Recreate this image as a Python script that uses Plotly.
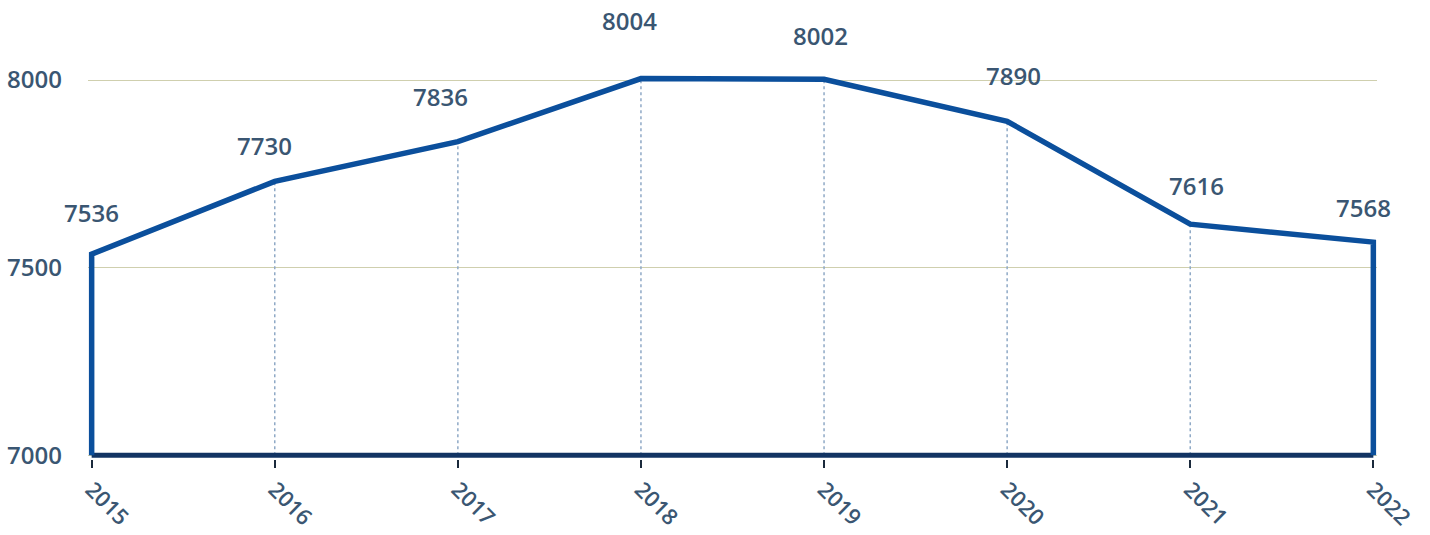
import plotly.graph_objects as go

years = [2015, 2016, 2017, 2018, 2019, 2020, 2021, 2022]
values = [7536, 7730, 7836, 8004, 8002, 7890, 7616, 7568]
y_ticks = [7000, 7500, 8000]

BASE = 7000
LINE_BLUE = "#0b4f9c"
BASE_NAVY = "#123463"
TEXT_BLUE = "#3a5672"
GRID = "#cfcfae"
DOT = "#8fa9c6"
FONT = dict(family="Open Sans", size=24, color=TEXT_BLUE, weight=600)
XFONT = dict(family="Open Sans", size=22, color=TEXT_BLUE, weight=600)

# label nudges (px) so labels clear the outline
label_dx = [0, -10, -17, -11, -4, 6, 6, -10]
label_dy = [42, 36, 45, 58, 44, 46, 39, 35]

fig = go.Figure()

# dotted drop lines at interior years
for x, v in zip(years[1:-1], values[1:-1]):
    fig.add_trace(go.Scatter(
        x=[x, x], y=[BASE, v], mode="lines",
        line=dict(color=DOT, width=1.5, dash="dot"),
        hoverinfo="skip", showlegend=False,
    ))

# base line
fig.add_trace(go.Scatter(
    x=[years[0], years[-1]], y=[BASE, BASE], mode="lines",
    line=dict(color=BASE_NAVY, width=5),
    hoverinfo="skip", showlegend=False,
))

# outline: left edge, top curve, right edge
outline_x = [years[0]] + years + [years[-1]]
outline_y = [BASE] + values + [BASE]
fig.add_trace(go.Scatter(
    x=outline_x, y=outline_y, mode="lines",
    line=dict(color=LINE_BLUE, width=5.5),
    showlegend=False,
))

for x, v, dx, dy in zip(years, values, label_dx, label_dy):
    fig.add_annotation(
        x=x, y=v, text=str(v), showarrow=False,
        xshift=dx, yshift=dy, yanchor="middle", font=FONT,
    )

fig.update_layout(
    width=1430, height=535,
    margin=dict(l=88, r=53, t=5, b=76),
    paper_bgcolor="white", plot_bgcolor="white",
    font=FONT,
)
fig.update_xaxes(
    range=[2014.98, 2022.02], tickvals=years, ticktext=[str(y) for y in years],
    tickangle=45, ticks="outside", ticklen=8, tickwidth=1.5, tickcolor="#1b2a3c",
    showgrid=False, zeroline=False, showline=False, tickfont=XFONT,
    automargin=False,
)
fig.update_yaxes(
    range=[6990, 8200], tickvals=y_ticks, ticklabelstandoff=25,
    showgrid=True, gridcolor=GRID, gridwidth=1.2, zeroline=False, showline=False,
    tickfont=FONT, automargin=False,
)

fig.write_html("out.html")
